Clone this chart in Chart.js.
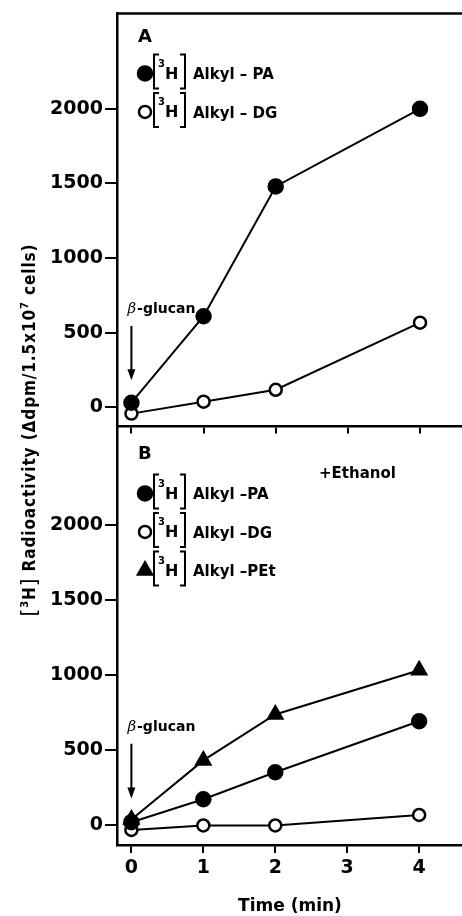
<!DOCTYPE html>
<html>
<head>
<meta charset="utf-8">
<script src="https://cdn.jsdelivr.net/npm/chart.js@4.4.0/dist/chart.umd.min.js"></script>
<style>
	body{margin:0;width:462px;height:916px;overflow:hidden;background:#fff;position:relative}
	#grafA{position:absolute;left:0;top:0}
	#grafB{position:absolute;left:0;top:416px}
	#titulo{position:absolute;left:-184px;top:420px;width:420px;height:20px;line-height:20px;text-align:center;
		transform:rotate(-90deg);font:bold 17px "DejaVu Sans Condensed";letter-spacing:0.9px;color:#000;white-space:nowrap}
	#titulo sup{font-size:11px;line-height:0;vertical-align:7px}
	#titulo .col{font-weight:normal;font-size:22px;vertical-align:-1px}
</style>
</head>
<body>
<canvas id="grafA" width="480" height="440"></canvas>
<canvas id="grafB" width="480" height="500"></canvas>
<div id="titulo"><span class="col">[</span><sup>3</sup>H<span class="col">]</span> Radioactivity (Δdpm/1.5x10<sup>7</sup> cells)</div>
<script>
	// tempo em minutos
	var tempo = [0, 1, 2, 4];
	// painel A
	var paA = [30, 610, 1480, 2000];
	var dgA = [-43, 37, 117, 567];
	// painel B (+Ethanol)
	var paB = [22, 175, 355, 695];
	var dgB = [-30, 0, 0, 70];
	var petB = [40, 434, 740, 1035];
	var ticksY = [0, 500, 1000, 1500, 2000];
	var ticksX = [0, 1, 2, 3, 4];
	// seta do beta-glucan: texto, inicio, fim (valores do eixo y)
	var seta = [655, 545, 180];

	function pontos(valores){
		return tempo.map(function(t, i){ return {x: t, y: valores[i]}; });
	}

	function serie(valores, estilo, fundo, raio){
		return {
			data: pontos(valores),
			borderColor: '#000',
			borderWidth: 2,
			pointStyle: estilo,
			pointRadius: raio,
			pointBackgroundColor: fundo,
			pointBorderColor: '#000',
			pointBorderWidth: 2.5,
			tension: 0
		};
	}

	var fonte = 'DejaVu Sans';

	function escalas(comRotulos){
		return {
			x: {
				type: 'linear', min: -0.2, max: 4.7,
				afterBuildTicks: function(s){ s.ticks = ticksX.map(function(v){ return {value: v}; }); },
				afterFit: function(s){ s.height = comRotulos ? 71 : 12; },
				border: {color: '#000', width: 2.5},
				grid: {drawOnChartArea: false, color: '#000', lineWidth: 2, tickLength: comRotulos ? 8 : 7},
				ticks: {display: comRotulos, color: '#000', padding: 4, font: {family: fonte, weight: 'bold', size: 19},
					callback: function(v){ return String(v); }}
			},
			y: {
				type: 'linear', min: -130, max: 2640,
				afterBuildTicks: function(s){ s.ticks = ticksY.map(function(v){ return {value: v}; }); },
				afterFit: function(s){ s.width = 117; },
				border: {color: '#000', width: 2.5},
				grid: {drawOnChartArea: false, color: '#000', lineWidth: 2, tickLength: 12},
				ticks: {color: '#000', padding: 2, font: {family: fonte, weight: 'bold', size: 19},
					callback: function(v){ return String(v); }}
			}
		};
	}

	var anotacoes = {
		id: 'anotacoes',
		afterDraw: function(chart, args, opts){
			var ctx = chart.ctx, area = chart.chartArea;
			var sx = chart.scales.x, sy = chart.scales.y;
			ctx.save();
			ctx.strokeStyle = '#000';
			ctx.fillStyle = '#000';
			ctx.lineWidth = 2.5;
			if(opts.topo){
				ctx.beginPath();
				ctx.moveTo(area.left - 1, area.top);
				ctx.lineTo(area.right, area.top);
				ctx.stroke();
			}

			ctx.textBaseline = 'middle';
			ctx.textAlign = 'left';
			ctx.font = 'bold 18px "' + fonte + '"';
			ctx.fillText(opts.letra, area.left + 21, area.top + opts.yLetra);

			if(opts.extra){
				ctx.font = 'bold 15px "' + fonte + '"';
				ctx.fillText(opts.extra, area.left + 202, area.top + 45);
			}

			opts.legenda.forEach(function(item, i){
				var y = area.top + opts.yLegenda + i * 38.5;
				var x = area.left + 28;
				ctx.lineWidth = 2.5;
				ctx.fillStyle = item.fundo;
				ctx.strokeStyle = '#000';
				Chart.helpers.drawPoint(ctx, {pointStyle: item.estilo, radius: item.raio, borderWidth: 2.5}, x, y);
				ctx.fillStyle = '#000';
				ctx.lineWidth = 2;
				var bl = area.left + 37, br = area.left + 68, t = y - 19, b = y + 15;
				ctx.beginPath();
				ctx.moveTo(bl + 5, t); ctx.lineTo(bl, t); ctx.lineTo(bl, b); ctx.lineTo(bl + 5, b);
				ctx.moveTo(br - 5, t); ctx.lineTo(br, t); ctx.lineTo(br, b); ctx.lineTo(br - 5, b);
				ctx.stroke();
				ctx.font = 'bold 10px "' + fonte + '"';
				ctx.fillText('3', bl + 4, y - 9);
				ctx.font = 'bold 16px "' + fonte + '"';
				ctx.fillText('H', bl + 11, y + 1);
				ctx.font = 'bold 15px "' + fonte + '"';
				ctx.fillText(item.texto, area.left + 76, y + 2);
			});

			// beta-glucan
			var x0 = sx.getPixelForValue(0);
			var yt = sy.getPixelForValue(seta[0]);
			ctx.font = 'italic 15px "DejaVu Serif"';
			ctx.fillText('β', x0 - 4, yt);
			var w = ctx.measureText('β').width;
			ctx.font = 'bold 14px "' + fonte + '"';
			ctx.fillText('-glucan', x0 - 3 + w, yt);
			var y1 = sy.getPixelForValue(seta[1]), y2 = sy.getPixelForValue(seta[2]);
			ctx.lineWidth = 2;
			ctx.beginPath();
			ctx.moveTo(x0, y1); ctx.lineTo(x0, y2 - 8);
			ctx.stroke();
			ctx.beginPath();
			ctx.moveTo(x0 - 4, y2 - 11); ctx.lineTo(x0 + 4, y2 - 11); ctx.lineTo(x0, y2);
			ctx.closePath();
			ctx.fill();

			if(opts.tituloX){
				ctx.textAlign = 'center';
				ctx.font = 'bold 17px "' + fonte + '"';
				ctx.fillText(opts.tituloX, area.left + 173, area.bottom + 62);
			}
			ctx.restore();
		}
	};

	var ctxA = document.getElementById('grafA').getContext('2d');
	new Chart(ctxA, {
		type: 'line',
		data: {datasets: [serie(paA, 'circle', '#000', 7), serie(dgA, 'circle', '#fff', 6)]},
		options: {
			responsive: false, animation: false,
			layout: {padding: {top: 12, left: 0, right: 0, bottom: 0}},
			plugins: {
				legend: {display: false}, tooltip: {enabled: false},
				anotacoes: {
					letra: 'A', yLetra: 24, yLegenda: 60, topo: true,
					legenda: [
						{estilo: 'circle', fundo: '#000', raio: 7, texto: 'Alkyl – PA'},
						{estilo: 'circle', fundo: '#fff', raio: 6, texto: 'Alkyl – DG'}
					]
				}
			},
			scales: escalas(false)
		},
		plugins: [anotacoes]
	});

	var ctxB = document.getElementById('grafB').getContext('2d');
	new Chart(ctxB, {
		type: 'line',
		data: {datasets: [serie(paB, 'circle', '#000', 7), serie(dgB, 'circle', '#fff', 6), serie(petB, 'triangle', '#000', 8)]},
		options: {
			responsive: false, animation: false,
			layout: {padding: {top: 12, left: 0, right: 0, bottom: 0}},
			plugins: {
				legend: {display: false}, tooltip: {enabled: false},
				anotacoes: {
					letra: 'B', yLetra: 25, yLegenda: 64, topo: false, extra: '+Ethanol', tituloX: 'Time (min)',
					legenda: [
						{estilo: 'circle', fundo: '#000', raio: 7, texto: 'Alkyl –PA'},
						{estilo: 'circle', fundo: '#fff', raio: 6, texto: 'Alkyl –DG'},
						{estilo: 'triangle', fundo: '#000', raio: 8, texto: 'Alkyl –PEt'}
					]
				}
			},
			scales: escalas(true)
		},
		plugins: [anotacoes]
	});
</script>
</body>
</html>
